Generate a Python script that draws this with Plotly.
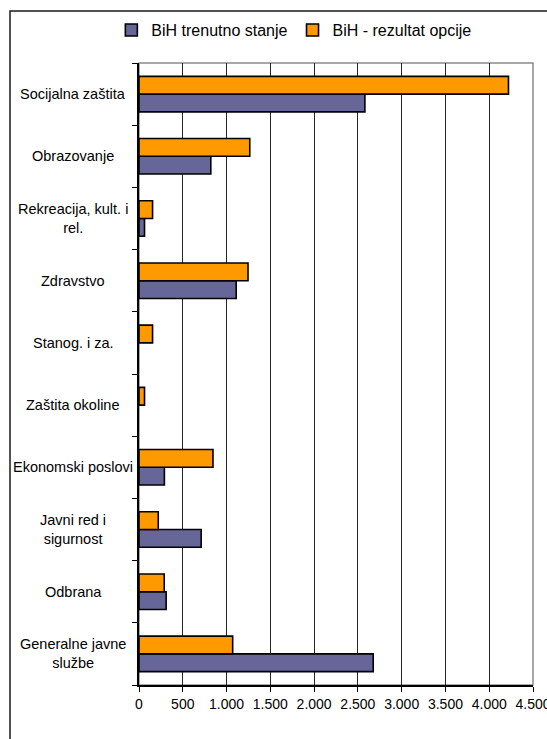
import plotly.graph_objects as go

# Categories, listed top to bottom as they appear on the chart
categories = [
    "Socijalna zaštita",
    "Obrazovanje",
    "Rekreacija, kult. i rel.",
    "Zdravstvo",
    "Stanog. i za.",
    "Zaštita okoline",
    "Ekonomski poslovi",
    "Javni red i sigurnost",
    "Odbrana",
    "Generalne javne službe",
]
# Display text for the category labels (wrapped)
category_labels = [
    "Socijalna zaštita",
    "Obrazovanje",
    "Rekreacija, kult. i<br>rel.",
    "Zdravstvo",
    "Stanog. i za.",
    "Zaštita okoline",
    "Ekonomski poslovi",
    "Javni red i<br>sigurnost",
    "Odbrana",
    "Generalne javne<br>službe",
]

series_names = ["BiH trenutno stanje", "BiH - rezultat opcije"]
trenutno_stanje = [2580, 820, 63, 1110, 0, 0, 290, 710, 310, 2675]
rezultat_opcije = [4220, 1265, 155, 1245, 155, 63, 845, 220, 288, 1070]

x_ticks = [0, 500, 1000, 1500, 2000, 2500, 3000, 3500, 4000, 4500]

colors = ["#666699", "#FF9900"]
FONT = "Liberation Sans, Arial, sans-serif"

fig = go.Figure()
for name, vals, col in zip(series_names, [trenutno_stanje, rezultat_opcije], colors):
    fig.add_trace(go.Bar(
        y=categories, x=vals, name=name, orientation="h",
        marker=dict(
            color=col,
            # no outline on empty bars
            line=dict(color="black", width=[1.6 if v > 0 else 0 for v in vals]),
        ),
    ))

# Category labels drawn centred beside the axis
for cat, lab in zip(categories, category_labels):
    fig.add_annotation(
        x=-0.167, xref="paper", y=cat, yref="y", text=lab,
        showarrow=False, xanchor="center", yanchor="middle", align="center",
        font=dict(family=FONT, size=14.5, color="black"),
    )

# Grey frame on top/right of the plot area
fig.add_shape(type="rect", xref="paper", yref="paper", x0=0, x1=1, y0=0, y1=1,
              line=dict(color="#8c8c8c", width=1.5), layer="below")
# Outer chart border
fig.add_shape(type="rect", xref="paper", yref="paper",
              x0=-0.3274, x1=1.04, y0=-0.09, y1=1.0836,
              line=dict(color="#1a1a1a", width=1.5), layer="below")

fig.update_layout(
    width=547, height=739,
    margin=dict(l=139, r=14, t=63, b=54),
    paper_bgcolor="white", plot_bgcolor="white",
    barmode="group", bargap=0.43, bargroupgap=0,
    separators=",.",
    font=dict(family=FONT, size=14, color="black"),
    showlegend=True,
    legend=dict(
        orientation="h", x=0.393, xanchor="center", y=1.053, yanchor="middle",
        font=dict(family=FONT, size=16, color="black"),
        itemwidth=30, traceorder="normal", bgcolor="rgba(0,0,0,0)",
    ),
    xaxis=dict(
        range=[0, 4500], tickvals=x_ticks, tickformat=",",
        showgrid=True, gridcolor="#262626", gridwidth=1,
        showline=True, linecolor="black", linewidth=1.5,
        ticks="outside", ticklen=5, tickcolor="black",
        ticklabeloverflow="allow", automargin=False,
        zeroline=False, fixedrange=True,
        tickfont=dict(family=FONT, size=14, color="black"),
    ),
    yaxis=dict(
        categoryorder="array", categoryarray=categories[::-1],
        showticklabels=False, showgrid=False, automargin=False,
        showline=True, linecolor="black", linewidth=1.5,
        ticks="outside", tickson="boundaries", ticklen=5, tickcolor="black",
        zeroline=False, fixedrange=True,
    ),
)

fig.write_html("out.html")
